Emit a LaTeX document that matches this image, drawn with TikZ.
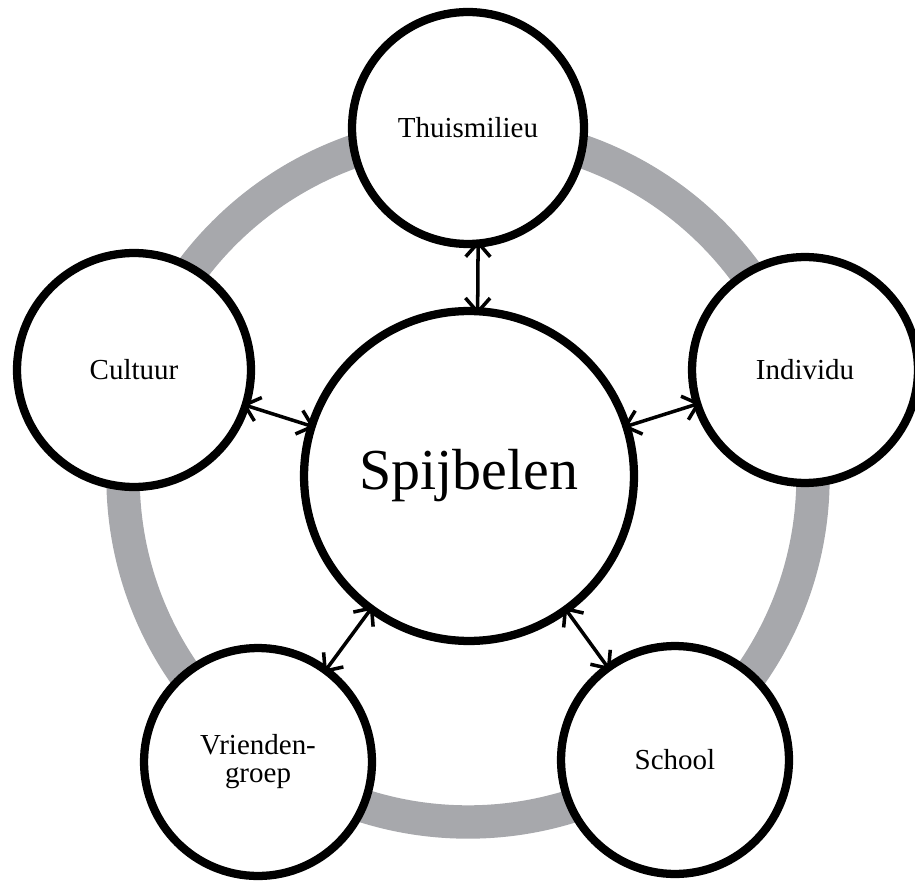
\documentclass[tikz,border=0pt]{standalone}
\usepackage{fontspec}
\setmainfont{Liberation Serif}
\usetikzlibrary{arrows.meta}
\definecolor{ringgrey}{RGB}{167,168,172}

\begin{document}
\begin{tikzpicture}[x=0.02cm, y=-0.02cm,
	factor/.style={circle, draw, line width=4.7pt, fill=white, minimum size=4.64cm,
		inner sep=0pt, outer sep=0pt, align=center, font=\fontsize{16.5}{16}\selectfont},
	link/.style={<->, line width=2pt, shorten <=-2pt, shorten >=-2pt,
		>={Straight Barb[length=8pt,width=14pt]}}]
	\useasboundingbox (0,0) rectangle (915,884);
	
	% grey ring behind the circles
	\draw [ringgrey, line width=19pt] (468,477) circle (345);
	
	\node [factor, minimum size=6.6cm, font=\fontsize{33}{36}\selectfont] (spij) at (469,476) {Spijbelen};
	\node [factor] (thuis) at (468,128) {Thuismilieu};
	\node [factor, minimum size=4.68cm] (cult) at (134,370) {Cultuur};
	\node [factor, minimum size=4.52cm] (indiv) at (805,370) {Individu};
	\node [factor, minimum size=4.56cm] (vrien) at (258,762) {Vrienden-\\groep};
	\node [factor, minimum size=4.56cm] (school) at (675,760) {School};
	
	\path [link]
	(thuis.-85) edge (spij.87)
	(cult) edge (spij)
	(indiv) edge (spij)
	(vrien) edge (spij)
	(school) edge (spij);
\end{tikzpicture}
\end{document}
